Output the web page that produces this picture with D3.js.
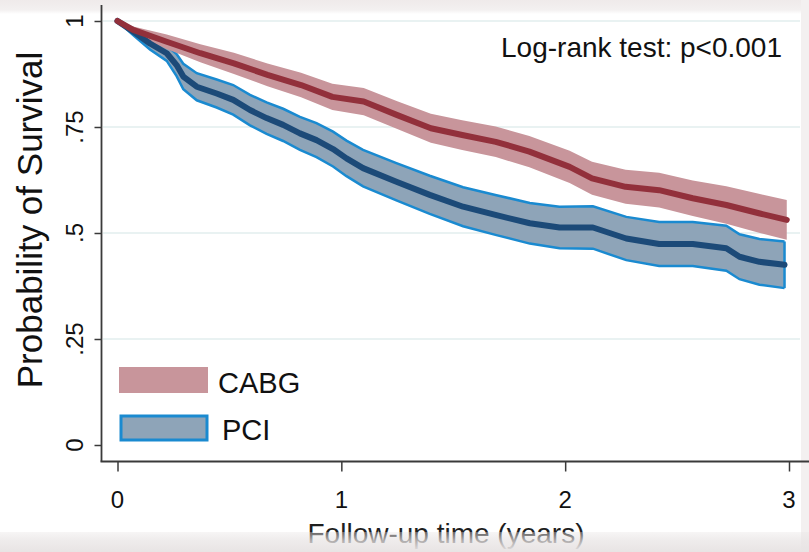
<!DOCTYPE html>
<html>
<head>
<meta charset="utf-8">
<script src="https://cdn.jsdelivr.net/npm/d3@7"></script>
<style>
  html, body { margin: 0; padding: 0; background: #ffffff; }
  svg { display: block; }
  text { font-family: "Liberation Sans", Arial, sans-serif; }
</style>
</head>
<body>
<svg id="chart" width="809" height="552"></svg>
<script>
// ---- data ----
const xTicks = [0, 1, 2, 3];
const yTicks = [0, 0.25, 0.5, 0.75, 1];
const yTickLabels = ["0", ".25", ".5", ".75", "1"];
const groups = ["CABG", "PCI"];

const cabgTime  = [0, 0.07, 0.22, 0.37, 0.52, 0.67, 0.82, 0.96, 1.10, 1.25, 1.40, 1.54, 1.69, 1.84, 2.02, 2.12, 2.27, 2.42, 2.57, 2.72, 2.87, 2.99];
const cabgSurv  = [1.0, 0.979, 0.951, 0.924, 0.900, 0.873, 0.849, 0.821, 0.810, 0.778, 0.747, 0.731, 0.715, 0.692, 0.656, 0.629, 0.609, 0.601, 0.582, 0.566, 0.546, 0.531];
const cabgUpper = [1.0, 0.987, 0.968, 0.945, 0.925, 0.900, 0.878, 0.852, 0.842, 0.811, 0.781, 0.766, 0.751, 0.729, 0.694, 0.668, 0.649, 0.642, 0.624, 0.610, 0.592, 0.578];
const cabgLower = [1.0, 0.971, 0.934, 0.903, 0.875, 0.846, 0.820, 0.790, 0.778, 0.745, 0.713, 0.696, 0.679, 0.655, 0.618, 0.590, 0.569, 0.560, 0.540, 0.522, 0.500, 0.484];

const pciTime  = [0, 0.07, 0.145, 0.22, 0.264, 0.294, 0.354, 0.443, 0.517, 0.592, 0.666, 0.74, 0.815, 0.889, 0.963, 1.023, 1.097, 1.246, 1.395, 1.544, 1.693, 1.842, 1.975, 2.124, 2.273, 2.42, 2.57, 2.72, 2.779, 2.868, 2.98];
const pciSurv  = [1.0, 0.975, 0.947, 0.924, 0.896, 0.869, 0.845, 0.829, 0.814, 0.790, 0.771, 0.755, 0.735, 0.719, 0.698, 0.676, 0.653, 0.621, 0.590, 0.562, 0.542, 0.523, 0.513, 0.513, 0.487, 0.474, 0.474, 0.464, 0.444, 0.432, 0.425];
const pciUpper = [1.0, 0.983, 0.961, 0.942, 0.922, 0.899, 0.877, 0.862, 0.849, 0.826, 0.808, 0.793, 0.774, 0.759, 0.739, 0.718, 0.696, 0.665, 0.635, 0.608, 0.589, 0.571, 0.562, 0.563, 0.538, 0.526, 0.526, 0.517, 0.497, 0.486, 0.480];
const pciLower = [1.0, 0.967, 0.933, 0.906, 0.870, 0.839, 0.813, 0.796, 0.779, 0.754, 0.734, 0.717, 0.696, 0.679, 0.657, 0.634, 0.610, 0.577, 0.545, 0.516, 0.495, 0.475, 0.464, 0.463, 0.436, 0.422, 0.422, 0.411, 0.391, 0.378, 0.370];

const annotation = "Log-rank test: p<0.001";
const xTitle = "Follow-up time (years)";
const yTitle = "Probability of Survival";

// ---- styles ----
const C = {
  cabgBand: "#c8959b", cabgLine: "#92303b",
  pciBand: "#8ea4b8", pciEdge: "#1a8ad0", pciLine: "#1c4a78",
  axis: "#3a3a3a", grid: "#e2eeee", text: "#111111"
};

const svg = d3.select("#chart");
const W = 809, H = 552;

const x = d3.scaleLinear().domain([0, 3]).range([117.5, 789]);
const y = d3.scaleLinear().domain([0, 1]).range([445, 21]);

// background frame bands
const defs = svg.append("defs");
const gTop = defs.append("linearGradient").attr("id", "gTop").attr("x1", 0).attr("x2", 0).attr("y1", 0).attr("y2", 1);
gTop.append("stop").attr("offset", "0%").attr("stop-color", "#efeaea");
gTop.append("stop").attr("offset", "70%").attr("stop-color", "#f3f0f0");
gTop.append("stop").attr("offset", "100%").attr("stop-color", "#ffffff");
const gBot = defs.append("linearGradient").attr("id", "gBot").attr("x1", 0).attr("x2", 0).attr("y1", 0).attr("y2", 1);
gBot.append("stop").attr("offset", "0%").attr("stop-color", "#e8e4e4").attr("stop-opacity", 0.35);
gBot.append("stop").attr("offset", "40%").attr("stop-color", "#e8e4e4").attr("stop-opacity", 0.7);
gBot.append("stop").attr("offset", "100%").attr("stop-color", "#e8e4e4").attr("stop-opacity", 1);

svg.append("rect").attr("x", 0).attr("y", 0).attr("width", W).attr("height", H).attr("fill", "#ffffff");
svg.append("rect").attr("x", 0).attr("y", 0).attr("width", W).attr("height", 14).attr("fill", "url(#gTop)");
svg.append("rect").attr("x", 801).attr("y", 0).attr("width", 8).attr("height", H).attr("fill", "#f3f0f0");

// gridlines
svg.append("g").selectAll("line").data(yTicks.filter(d => d > 0)).join("line")
  .attr("x1", 103).attr("x2", 800)
  .attr("y1", d => y(d)).attr("y2", d => y(d))
  .attr("stroke", C.grid).attr("stroke-width", 1.5);

// bands
const band = (T, L, U) => d3.area().x((d, i) => x(T[i])).y0((d, i) => y(L[i])).y1((d, i) => y(U[i]))(T);
const lineGen = (T, V) => d3.line().x((d, i) => x(T[i])).y((d, i) => y(V[i]))(T);

svg.append("path").attr("d", band(pciTime, pciLower, pciUpper)).attr("fill", C.pciBand);
svg.append("path").attr("d", lineGen(pciTime, pciUpper)).attr("fill", "none").attr("stroke", C.pciEdge).attr("stroke-width", 2.5);
svg.append("path").attr("d", lineGen(pciTime, pciLower)).attr("fill", "none").attr("stroke", C.pciEdge).attr("stroke-width", 2.5);
svg.append("line")
  .attr("x1", x(pciTime[pciTime.length - 1])).attr("x2", x(pciTime[pciTime.length - 1]))
  .attr("y1", y(pciUpper[pciUpper.length - 1])).attr("y2", y(pciLower[pciLower.length - 1]))
  .attr("stroke", C.pciEdge).attr("stroke-width", 2.5);

svg.append("path").attr("d", band(cabgTime, cabgLower, cabgUpper)).attr("fill", C.cabgBand);

svg.append("path").attr("d", lineGen(pciTime, pciSurv)).attr("fill", "none")
  .attr("stroke", C.pciLine).attr("stroke-width", 6).attr("stroke-linecap", "round").attr("stroke-linejoin", "round");
svg.append("path").attr("d", lineGen(cabgTime, cabgSurv)).attr("fill", "none")
  .attr("stroke", C.cabgLine).attr("stroke-width", 6).attr("stroke-linecap", "round").attr("stroke-linejoin", "round");

// axes
const yAxis = d3.axisLeft(y).tickValues(yTicks).tickFormat((d, i) => yTickLabels[i]).tickSize(7).tickPadding(0);
const gy = svg.append("g").attr("transform", "translate(101.5,0)").call(yAxis);
gy.select(".domain").remove();
gy.selectAll(".tick line").attr("stroke", C.axis).attr("stroke-width", 1.5);
gy.selectAll(".tick text").remove();
svg.append("line").attr("x1", 101.5).attr("x2", 101.5).attr("y1", 5).attr("y2", 461.5)
  .attr("stroke", C.axis).attr("stroke-width", 1.8);

svg.append("g").selectAll("text").data(yTicks).join("text")
  .attr("transform", d => `translate(83,${y(d)}) rotate(-90)`)
  .attr("text-anchor", "middle").attr("font-size", 24).attr("fill", C.text)
  .text((d, i) => yTickLabels[i]);

const xAxis = d3.axisBottom(x).tickValues(xTicks).tickFormat(d3.format("d")).tickSize(10).tickPadding(0);
const gx = svg.append("g").attr("transform", "translate(0,461.5)").call(xAxis);
gx.select(".domain").remove();
gx.selectAll(".tick line").attr("stroke", C.axis).attr("stroke-width", 1.5);
gx.selectAll(".tick text").remove();
svg.append("line").attr("x1", 100.5).attr("x2", 809).attr("y1", 461.5).attr("y2", 461.5)
  .attr("stroke", C.axis).attr("stroke-width", 1.8);
svg.append("g").selectAll("text").data(xTicks).join("text")
  .attr("x", d => x(d)).attr("y", 508)
  .attr("text-anchor", "middle").attr("font-size", 24).attr("fill", C.text)
  .text(d => d);

// titles
svg.append("text").attr("transform", "translate(42,220) rotate(-90)")
  .attr("text-anchor", "middle").attr("font-size", 35).attr("fill", C.text).text(yTitle);
svg.append("text").attr("x", 446).attr("y", 543)
  .attr("text-anchor", "middle").attr("font-size", 28).attr("fill", "#1e1e1e").text(xTitle);

// annotation
svg.append("text").attr("x", 782).attr("y", 57).attr("text-anchor", "end")
  .attr("font-size", 28).attr("fill", C.text).text(annotation);

// legend
const leg = svg.append("g");
leg.append("rect").attr("x", 119).attr("y", 367).attr("width", 89).attr("height", 26).attr("fill", C.cabgBand);
leg.append("rect").attr("x", 121).attr("y", 416).attr("width", 86).attr("height", 24)
  .attr("fill", C.pciBand).attr("stroke", C.pciEdge).attr("stroke-width", 3);
leg.append("text").attr("x", 218).attr("y", 393).attr("font-size", 29).attr("fill", C.text).text(groups[0]);
leg.append("text").attr("x", 222).attr("y", 440).attr("font-size", 29).attr("fill", C.text).text(groups[1]);

// bottom fade band (screenshot frame)
svg.append("rect").attr("x", 0).attr("y", 532).attr("width", W).attr("height", 20).attr("fill", "url(#gBot)");
</script>
</body>
</html>
